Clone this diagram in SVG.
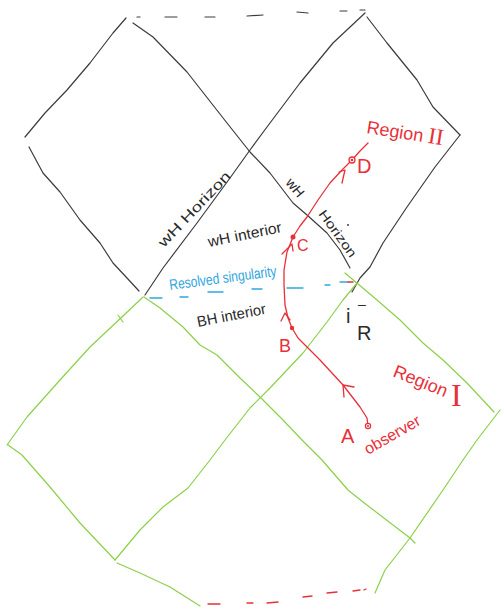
<svg xmlns="http://www.w3.org/2000/svg" width="504" height="610" viewBox="0 0 504 610">
<style>
.bk{fill:none;stroke:#3c3c3c;stroke-width:1.2;stroke-linecap:round;stroke-linejoin:round}
.gr{fill:none;stroke:#8cd04a;stroke-width:1.2;stroke-linecap:round;stroke-linejoin:round}
.rd{fill:none;stroke:#e8303a;stroke-width:1.3;stroke-linecap:round;stroke-linejoin:round}
.bl{fill:none;stroke:#2ea6e0;stroke-width:1.3;stroke-linecap:round}
.t{font-family:"Liberation Sans",Arial,sans-serif}
.tk{fill:#2a2a2a}
.tr{fill:#e8303a}
.tb{fill:#2ea6e0}
.sr{font-family:"Liberation Serif","Times New Roman",serif}
</style>
<rect width="504" height="610" fill="#ffffff"/>

<g id="black-frame">
  <path class="bk" d="M126,18 L113,33 L90,63 L67,90 L45,113 L25,137"/>
  <path class="bk" d="M29,147 L43,173 L60,192 L80,220 L100,243 L113,263 L127,278 L139,291"/>
  <path class="bk" d="M133,23 L153,37 L187,72 L227,123 L250,152 L270,173 L293,203 L307,215 L327,233 L340,250 L350,268"/>
  <path class="bk" d="M365,13 L333,43 L300,83 L267,127 L250,150 L230,178 L197,223 L163,268 L145,295"/>
  <path class="bk" d="M367,17 L387,43 L417,80 L433,107 L460,135"/>
  <path class="bk" d="M460,135 L435,167 L407,207 L383,243 L370,267 L360,278 L352,292"/>
  <g class="bk">
    <path d="M137,17 L140,17"/><path d="M165,17 L177,17"/><path d="M205,17 L215,17"/>
    <path d="M247,16 L263,15"/><path d="M297,12 L308,13"/><path d="M340,11 L347,11"/><path d="M360,10 L365,10"/>
  </g>
  <circle cx="348" cy="225" r="0.9" fill="#2a2a2a"/>
</g>

<g id="green-frame">
  <path class="gr" d="M144,297 L160,308 L183,327 L200,345 L217,355 L240,378 L260,397 L283,420 L302,440 L322,460 L348,490 L363,502 L410,538 L415,543"/>
  <path class="gr" d="M115,560 L140,530 L163,507 L188,488 L210,460 L225,440 L250,408 L270,388 L303,353 L327,322 L343,300 L357,283"/>
  <path class="gr" d="M143,297 L123,316 L90,347 L60,380 L27,417 L7,445"/>
  <path class="gr" d="M118,315 L123,322"/>
  <path class="gr" d="M8,445 L22,455 L50,487 L80,523 L115,560"/>
  <path class="gr" d="M117,563 L140,573 L170,587 L200,606"/>
  <path class="gr" d="M345,273 L377,300 L400,320 L423,343 L443,360 L467,383 L494,412"/>
  <path class="gr" d="M500,410 L477,440 L463,460 L443,490 L410,538 L385,570 L375,593"/>
</g>

<g id="bottom-dashes" class="rd">
  <path d="M208,604 L220,604"/><path d="M247,603 L253,603"/><path d="M267,603 L278,602"/>
  <path d="M303,597 L312,596"/><path d="M327,593 L337,592"/><path d="M353,591 L360,590"/><path d="M364,590 L366,589"/>
</g>

<g id="resolved-singularity">
  <g class="bl">
    <path d="M150,298 L162,298"/><path d="M180,297 L188,297"/><path d="M208,292 L223,292"/>
    <path d="M252,289 L262,289"/><path d="M287,288 L303,288"/><path d="M325,285 L330,285"/><path d="M340,282 L348,282"/>
  </g>
  <path class="rd" d="M348,282 L353,282"/>
  <text class="t tb" x="170" y="290" font-size="15" textLength="108" lengthAdjust="spacingAndGlyphs" transform="rotate(-7.5 170 290)">Resolved singularity</text>
</g>

<g id="worldline">
  <path class="rd" d="M368,426 L367,418 L360,407 L343,385 L320,360 L305,345 L298,338 L292,328 L288,318 L285,305 L284,285 L284,270 L287,252 L293,237 L300,226 L307,217 L318,200 L330,183 L342,170 L352,160 L360,151 L368,143"/>
  <path class="rd" d="M344,397 L343,385 L354,387"/>
  <path class="rd" d="M281,321 L285,313 L290,320"/>
  <path class="rd" d="M282,254 L292,244 L293,251"/>
  <path class="rd" d="M339,172 L345,170 L342,183"/>
  <circle cx="368" cy="426" r="2.6" fill="#ffffff" stroke="#e8303a" stroke-width="1.2"/>
  <circle cx="368" cy="426" r="1.1" fill="#e8303a"/>
  <circle cx="292" cy="328" r="2.2" fill="#e8303a"/>
  <circle cx="293" cy="237" r="2.5" fill="#e8303a"/>
  <circle cx="352" cy="160" r="3" fill="#ffffff" stroke="#e8303a" stroke-width="1.3"/>
  <circle cx="352" cy="160" r="1.3" fill="#e8303a"/>
</g>

<g id="labels">
  <text class="t tr" x="366" y="133" font-size="18" transform="rotate(9 366 133)">Region <tspan class="sr" font-size="23">II</tspan></text>
  <text class="t tr" x="357" y="173" font-size="20">D</text>
  <text class="t tr" x="297" y="251" font-size="16">C</text>
  <text class="t tr" x="279" y="352" font-size="18">B</text>
  <text class="t tr" x="341" y="443" font-size="20">A</text>
  <text class="t tr" x="368" y="455" font-size="16" transform="rotate(-30 368 455)">observer</text>
  <text class="t tr" x="392" y="376" font-size="18" transform="rotate(22 392 376)">Region <tspan class="sr" font-size="32" dx="4" dy="6" rotate="-22">I</tspan></text>
  <text class="t tk" x="164" y="248" font-size="14" textLength="98" lengthAdjust="spacingAndGlyphs" transform="rotate(-46.5 164 248)">wH Horizon</text>
  <text class="t tk" x="285" y="183" font-size="14" transform="rotate(50 285 183)">wH</text>
  <text class="t tk" x="318" y="214" font-size="13" textLength="55" lengthAdjust="spacingAndGlyphs" transform="rotate(54 318 214)">Horizon</text>
  <text class="t tk" x="209" y="247" font-size="15" textLength="75" lengthAdjust="spacingAndGlyphs" transform="rotate(-11.5 209 247)">wH interior</text>
  <text class="t tk" x="198" y="327" font-size="15" textLength="70" lengthAdjust="spacingAndGlyphs" transform="rotate(-11 198 327)">BH interior</text>
  <text class="t tk" font-size="20"><tspan x="346" y="323">i</tspan><tspan x="358" y="309" font-size="14">–</tspan><tspan x="357" y="340">R</tspan></text>
</g>
</svg>
